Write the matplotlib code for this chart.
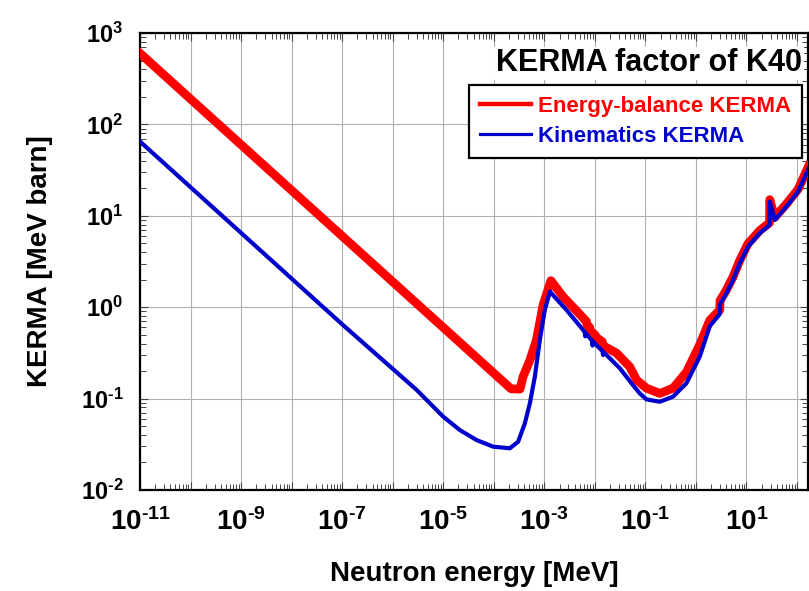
import math
import matplotlib
matplotlib.use("Agg")
import matplotlib.pyplot as plt
from matplotlib.lines import Line2D
from matplotlib.ticker import FixedLocator, FuncFormatter, LogLocator, NullFormatter

plt.rcParams['font.family'] = ['Liberation Sans', 'DejaVu Sans']
plt.rcParams['font.weight'] = 'bold'
plt.rcParams['mathtext.fontset'] = 'custom'
plt.rcParams['mathtext.rm'] = 'Liberation Sans:bold'
plt.rcParams['mathtext.it'] = 'Liberation Sans:bold'
plt.rcParams['mathtext.bf'] = 'Liberation Sans:bold'

# K-40 KERMA factors [MeV barn] vs neutron energy [MeV]
energy_balance_e = [1e-11, 1e-9, 1e-7, 1e-5, 2.2e-4, 3.3e-4, 3.8e-4, 5.2e-4, 7.0e-4,
                    9.5e-4, 1.35e-3, 2.36e-3, 6.8e-3, 7.0e-3, 7.9e-3, 8.1e-3, 1.0e-2,
                    1.05e-2, 1.4e-2, 1.45e-2, 2.68e-2, 4.9e-2, 6.7e-2, 0.105, 0.193,
                    0.353, 0.65, 1.19, 1.88, 2.96, 3.0, 4.02, 5.43, 7.36, 10.7, 18.3,
                    28.6, 28.9, 36.2, 61.8, 105.0, 170.0]
energy_balance_k = [600, 60, 6.0, 0.60, 0.128, 0.127, 0.174, 0.264, 0.44,
                    1.07, 1.95, 1.30, 0.70, 0.64, 0.60, 0.55, 0.50,
                    0.47, 0.42, 0.38, 0.315, 0.223, 0.16, 0.130, 0.114,
                    0.130, 0.195, 0.39, 0.72, 0.93, 1.18, 1.55, 2.15, 3.25, 4.95, 6.9,
                    8.4, 15.0, 9.6, 13.5, 19.5, 35.0]

kinematics_e = [1e-11, 1e-9, 1e-7, 3.0e-6, 1e-5, 2.13e-5, 4.56e-5, 9.7e-5, 2.08e-4,
                3.03e-4, 4.12e-4, 5.18e-4, 6.5e-4, 8.15e-4, 1.02e-3, 1.29e-3, 2.75e-3,
                5.85e-3, 6.3e-3, 6.45e-3, 6.6e-3, 8.8e-3, 9.0e-3, 9.2e-3, 1.42e-2,
                1.45e-2, 1.48e-2, 1.70e-2, 3.12e-2, 5.31e-2, 7.74e-2, 0.105, 0.193,
                0.352, 0.647, 1.19, 1.88, 2.96, 3.0, 4.02, 5.43, 7.36, 10.7, 18.3,
                28.6, 28.9, 36.2, 61.8, 105.0, 170.0]
kinematics_k = [65, 6.5, 0.65, 0.124, 0.0634, 0.0453, 0.0352, 0.0298, 0.0286,
                0.0337, 0.0537, 0.0889, 0.174, 0.438, 0.932, 1.48, 0.932,
                0.564, 0.53, 0.48, 0.52, 0.43, 0.38, 0.42, 0.33,
                0.30, 0.32, 0.300, 0.215, 0.147, 0.114, 0.098, 0.0924,
                0.105, 0.147, 0.288, 0.62, 0.84, 1.08, 1.42, 1.99, 3.02, 4.59, 6.44,
                7.93, 14.3, 9.0, 12.6, 18.4, 33.0]

x_decades = list(range(-11, 3))
x_labelled = [-11, -9, -7, -5, -3, -1, 1]
y_decades = list(range(-2, 4))


def decade_label(v, labelled=None):
    d = round(math.log10(v))
    if labelled is not None and d not in labelled:
        return ''
    return r'$10^{\text{%d}}$' % d


fig = plt.figure(figsize=(8.09, 5.91), dpi=100)
ax = fig.add_axes([140 / 809, 1 - 490 / 591, 668 / 809, 457 / 591])

ax.loglog(energy_balance_e, energy_balance_k, color='#ff0000', lw=6.3,
          solid_joinstyle='round', zorder=3)
ax.loglog(kinematics_e, kinematics_k, color='#0000cc', lw=3.0,
          solid_joinstyle='round', zorder=4)

ax.set_xlim(1e-11, 1.65e2)
ax.set_ylim(1e-2, 1e3)

ax.xaxis.set_major_locator(FixedLocator([10.0 ** d for d in x_decades]))
ax.xaxis.set_major_formatter(FuncFormatter(lambda v, p: decade_label(v, x_labelled)))
ax.yaxis.set_major_locator(FixedLocator([10.0 ** d for d in y_decades]))
ax.yaxis.set_major_formatter(FuncFormatter(lambda v, p: decade_label(v)))
for axis in (ax.xaxis, ax.yaxis):
    axis.set_minor_locator(LogLocator(base=10, subs=range(2, 10), numticks=30))
    axis.set_minor_formatter(NullFormatter())

ax.tick_params(which='both', direction='in', top=True, right=True, color='#444444')
ax.tick_params(which='major', length=6, width=0.8)
ax.tick_params(which='minor', length=4, width=0.7)
ax.tick_params(axis='x', which='major', labelsize=20, pad=13)
ax.tick_params(axis='y', which='major', labelsize=17, pad=12)

ax.grid(True, which='major', color='#b0b0b0', lw=0.8)
for s in ax.spines.values():
    s.set_linewidth(1.6)

ax.set_xlabel('Neutron energy [MeV]', fontsize=20, fontweight='bold')
ax.xaxis.set_label_coords(0.5, -0.155)
ax.set_ylabel('KERMA [MeV barn]', fontsize=20, fontweight='bold', labelpad=20)

ax.text(0.991, 0.934, 'KERMA factor of K40', transform=ax.transAxes, ha='right',
        va='center', fontsize=22, fontweight='bold', zorder=6,
        bbox=dict(facecolor='white', edgecolor='none', pad=1))

handles = [Line2D([], [], color='#ff0000', lw=3.2),
           Line2D([], [], color='#0000cc', lw=2.3)]
leg = ax.legend(handles, ['Energy-balance KERMA', 'Kinematics KERMA'],
                loc='upper right', bbox_to_anchor=(0.991, 0.886), fancybox=False,
                framealpha=1, edgecolor='black', labelcolor='linecolor',
                prop={'size': 16, 'weight': 'bold'}, handlelength=2.3,
                handletextpad=0.3, borderpad=0.5, labelspacing=0.4,
                borderaxespad=0)
leg.get_frame().set_linewidth(1.6)
leg.set_zorder(7)

fig.savefig('out.png', dpi=100)
